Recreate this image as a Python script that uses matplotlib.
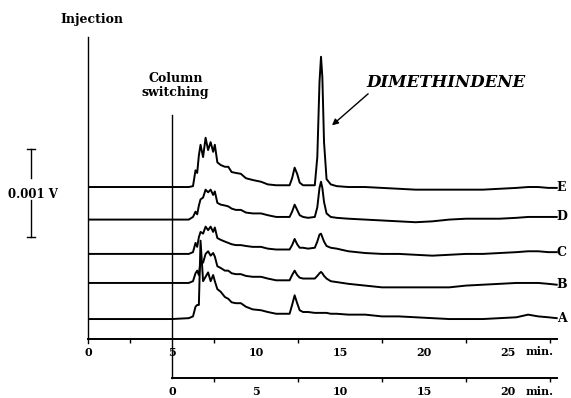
import numpy as np
import matplotlib.pyplot as plt

# retention time (min) and detector response (mV) for the five chromatograms
t = [0, 5.0, 6.0, 6.25, 6.4, 6.5, 6.6, 6.7, 6.85, 7.0,
     7.15, 7.3, 7.45, 7.55, 7.7, 7.9, 8.15, 8.35, 8.55, 8.8,
     9.1, 9.4, 9.8, 10.3, 10.7, 11.2, 11.7, 12.0, 12.15, 12.3,
     12.45, 12.6, 12.8, 13.1, 13.5, 13.65, 13.78, 13.87, 13.95, 14.05,
     14.2, 14.45, 14.8, 15.5, 16.5, 17.5, 18.5, 19.5, 20.5, 21.5,
     22.5, 23.5, 24.5, 25.5, 26.2, 26.8, 27.4, 27.9]

trace_A = [0, 0, 0.01, 0.03, 0.14, 0.16, 0.16, 0.89, 0.43, 0.48,
           0.53, 0.43, 0.50, 0.43, 0.34, 0.31, 0.25, 0.23, 0.19, 0.18,
           0.18, 0.14, 0.11, 0.10, 0.08, 0.06, 0.06, 0.06, 0.16, 0.27,
           0.18, 0.10, 0.08, 0.08, 0.07, 0.07, 0.07, 0.07, 0.07, 0.07,
           0.07, 0.06, 0.06, 0.05, 0.05, 0.03, 0.03, 0.02, 0.01, 0,
           0, 0, 0.01, 0.02, 0.05, 0.03, 0.02, 0.01]
trace_B = [0, 0, 0, 0.02, 0.11, 0.14, 0.09, 0.25, 0.23, 0.33,
           0.36, 0.31, 0.34, 0.30, 0.19, 0.17, 0.14, 0.14, 0.11, 0.10,
           0.10, 0.08, 0.07, 0.07, 0.05, 0.03, 0.03, 0.03, 0.09, 0.14,
           0.09, 0.06, 0.05, 0.05, 0.05, 0.08, 0.11, 0.125, 0.11, 0.08,
           0.05, 0.02, 0.01, -0.01, -0.03, -0.05, -0.05, -0.05, -0.05, -0.05,
           -0.03, -0.02, -0.01, 0, 0, 0, -0.01, -0.02]
trace_C = [0, 0, 0, 0.02, 0.125, 0.08, 0.19, 0.25, 0.23, 0.31,
           0.27, 0.31, 0.25, 0.30, 0.18, 0.16, 0.14, 0.125, 0.11, 0.10,
           0.10, 0.09, 0.08, 0.08, 0.06, 0.05, 0.05, 0.05, 0.10, 0.17,
           0.11, 0.07, 0.07, 0.06, 0.07, 0.14, 0.22, 0.23, 0.19, 0.14,
           0.09, 0.07, 0.06, 0.03, 0.01, 0, 0, -0.01, -0.02, -0.01,
           0, 0, 0.01, 0.02, 0.03, 0.03, 0.02, 0.02]
trace_D = [0, 0, 0, 0.03, 0.09, 0.06, 0.16, 0.23, 0.25, 0.34,
           0.31, 0.34, 0.28, 0.32, 0.19, 0.17, 0.16, 0.15, 0.125, 0.11,
           0.11, 0.08, 0.07, 0.07, 0.05, 0.03, 0.03, 0.03, 0.09, 0.17,
           0.11, 0.05, 0.03, 0.02, 0.03, 0.14, 0.36, 0.43, 0.36, 0.20,
           0.07, 0.03, 0.02, 0.01, 0, -0.01, -0.02, -0.03, -0.02, 0,
           0.01, 0.01, 0.01, 0.02, 0.03, 0.03, 0.03, 0.03]
trace_E = [0, 0, 0, 0.01, 0.19, 0.16, 0.36, 0.48, 0.34, 0.56,
           0.42, 0.51, 0.40, 0.48, 0.28, 0.25, 0.23, 0.23, 0.17, 0.16,
           0.15, 0.10, 0.08, 0.06, 0.03, 0.02, 0.02, 0.02, 0.10, 0.22,
           0.15, 0.05, 0.02, 0.02, 0.02, 0.34, 1.19, 1.48, 1.25, 0.51,
           0.09, 0.03, 0.01, 0, 0, -0.01, -0.02, -0.03, -0.03, -0.03,
           -0.03, -0.03, -0.02, -0.01, 0, 0, -0.01, -0.01]

labels = ["A", "B", "C", "D", "E"]
offsets = [0, 0.41, 0.74, 1.13, 1.5]   # vertical stacking, mV
traces = [trace_A, trace_B, trace_C, trace_D, trace_E]

switch_time = 5.0
main_ticks = [0, 5, 10, 15, 20, 25]
second_ticks = [0, 5, 10, 15, 20]

plt.rcParams['font.family'] = 'DejaVu Serif'
plt.rcParams['font.weight'] = 'bold'

fig = plt.figure(figsize=(5.71, 3.98), dpi=100)
ax = fig.add_axes([0.1541, 0.1482, 0.8297, 0.8266])
ax.set_xlim(0, 28.2)
ax.set_ylim(-0.227, 3.511)

for lab, off, y in zip(labels, offsets, traces):
    y = np.array(y) + off
    ax.plot(t, y, color="black", lw=1.4, solid_joinstyle="round")
    ax.text(27.9, y[-1], lab, fontsize=9, fontweight="bold",
            va="center", ha="left", clip_on=False)

for s in ["left", "right", "top"]:
    ax.spines[s].set_visible(False)
ax.spines["bottom"].set_bounds(0, 27.9)
ax.spines["bottom"].set_linewidth(1.4)
ax.set_yticks([])
ax.set_xticks(main_ticks)
ax.set_xticklabels([str(v) for v in main_ticks], fontsize=8, fontweight="bold")
ax.set_xticks(np.arange(2.5, 28, 5), minor=True)
ax.tick_params(axis="x", which="major", length=0, pad=6)
ax.tick_params(axis="x", which="minor", length=3, width=1)
ax.text(26.9, -0.37, "min.", fontsize=8, fontweight="bold", ha="center", va="center")

# injection and column switching markers
ax.plot([0, 0], [-0.27, 3.2], color="black", lw=1, clip_on=False)
ax.plot([switch_time, switch_time], [-0.67, 2.32], color="black", lw=1, clip_on=False)
fig.text(92 / 571, 1 - 20 / 398, "Injection", fontsize=9, fontweight="bold",
         ha="center", va="center")
ax.text(switch_time + 0.2, 2.65, "Column\nswitching", fontsize=9, fontweight="bold",
        ha="center", va="center", linespacing=1.1)

# peak annotation
ax.annotate("", xy=(14.4, 2.18), xytext=(16.8, 2.58),
            arrowprops=dict(arrowstyle="-|>", color="black", lw=1, mutation_scale=9))
ax.text(21.3, 2.69, "DIMETHINDENE", fontsize=12, fontweight="bold", style="italic",
        ha="center", va="center")

# 1 mV scale bar
xb = -3.39
ax.plot([xb, xb], [1.60, 1.93], color="black", lw=1, clip_on=False)
ax.plot([xb, xb], [0.93, 1.35], color="black", lw=1, clip_on=False)
ax.plot([xb - 0.24, xb + 0.24], [1.93, 1.93], color="black", lw=1, clip_on=False)
ax.plot([xb - 0.24, xb + 0.24], [0.93, 0.93], color="black", lw=1, clip_on=False)
ax.text(xb + 0.1, 1.41, "0.001 V", fontsize=8.5, fontweight="bold",
        ha="center", va="center", clip_on=False)

# time axis counted from column switching
ax2 = fig.add_axes([0.1541, 0.0503, 0.8297, 0.001])
ax2.set_xlim(-switch_time, 28.2 - switch_time)
for s in ["left", "right", "top"]:
    ax2.spines[s].set_visible(False)
ax2.spines["bottom"].set_bounds(0, 27.9 - switch_time)
ax2.spines["bottom"].set_linewidth(1.4)
ax2.patch.set_visible(False)
ax2.set_yticks([])
ax2.set_xticks(second_ticks)
ax2.set_xticklabels([str(v) for v in second_ticks], fontsize=8, fontweight="bold")
ax2.set_xticks(np.arange(2.5, 23, 5), minor=True)
ax2.tick_params(axis="x", which="major", length=0, pad=6)
ax2.tick_params(axis="x", which="minor", length=3, width=1)
ax.text(26.9, -0.82, "min.", fontsize=8, fontweight="bold", ha="center", va="center",
        clip_on=False)

fig.savefig("out.png", dpi=100)
